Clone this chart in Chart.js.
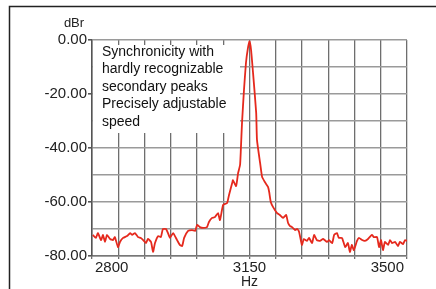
<!DOCTYPE html>
<html>
<head>
<meta charset="utf-8">
<script src="https://cdn.jsdelivr.net/npm/chart.js@4.4.1/dist/chart.umd.min.js"></script>
<style>
  body { margin: 0; background: #fff; }
  canvas { display: block; }
</style>
</head>
<body>
<canvas id="spectrum" width="436" height="289"></canvas>
<script>
// frequency (Hz) and level (dBr)
const hz = [
    2752, 2760, 2765, 2773, 2778, 2783, 2788, 2796, 2803, 2808, 2816, 2821, 2829, 2839, 2847,
    2852, 2859, 2867, 2874, 2880, 2887, 2892, 2900, 2905, 2910, 2918, 2925, 2930, 2938, 2943,
    2948, 2956, 2966, 2973, 2979, 2984, 2994, 3004, 3012, 3017, 3024, 3032, 3042, 3047, 3055,
    3062, 3070, 3075, 3083, 3093, 3098, 3106, 3108, 3116, 3121, 3126, 3128, 3131, 3136, 3141,
    3146, 3150, 3154, 3159, 3167, 3169, 3177, 3182, 3189, 3197, 3200, 3204, 3210, 3220, 3227,
    3235, 3243, 3248, 3253, 3258, 3266, 3271, 3276, 3283, 3288, 3296, 3301, 3309, 3314, 3321,
    3329, 3337, 3347, 3352, 3360, 3365, 3372, 3377, 3385, 3393, 3400, 3405, 3410, 3415, 3423,
    3428, 3436, 3443, 3451, 3461, 3466, 3474, 3479, 3484, 3489, 3494, 3502, 3507, 3512, 3520,
    3527, 3532, 3540, 3545, 3550
];
const dbr = [
    -72.2, -73.3, -71.5, -74.1, -72.2, -74.8, -72.2, -73.7, -74.1, -73.0, -76.7, -74.8, -73.3, -72.6, -71.5,
    -72.2, -71.5, -73.0, -73.3, -74.1, -75.2, -73.7, -74.8, -78.5, -75.2, -72.6, -73.0, -70.0, -70.0, -71.5,
    -73.3, -71.5, -74.1, -75.9, -76.3, -73.3, -70.7, -70.4, -70.7, -68.5, -69.3, -69.6, -69.3, -67.4, -65.9,
    -65.6, -64.1, -66.7, -61.1, -60.4, -57.4, -53.0, -51.9, -54.1, -49.3, -46.3, -40.7, -30.7, -18.5, -8.5,
    -3.0, -0.5, -3.7, -12.2, -27.0, -37.0, -45.6, -50.7, -52.6, -54.4, -56.3, -60.0, -61.9, -64.1, -64.8,
    -65.9, -64.8, -67.8, -68.9, -69.3, -70.4, -70.0, -71.1, -75.9, -73.7, -74.4, -73.3, -75.2, -72.2, -74.1,
    -74.4, -73.7, -74.8, -74.1, -75.2, -72.2, -71.5, -73.3, -73.3, -76.7, -75.2, -78.5, -75.9, -77.8, -74.4,
    -73.3, -74.1, -74.4, -73.7, -72.2, -73.0, -73.0, -76.7, -74.1, -77.8, -74.8, -75.9, -74.1, -75.2, -74.8,
    -76.3, -74.8, -75.6, -74.1, -74.4
];

const xMin = 2750, xMax = 3550;
const xGridStep = 800 / 12;
const xLabels = [2800, 3150, 3500];
const yLabels = [0, -20, -40, -60, -80];
const noteLines = [
    "Synchronicity with",
    "hardly recognizable",
    "secondary peaks",
    "Precisely adjustable",
    "speed"
];

const FONT = '"Liberation Sans", Arial, sans-serif';

const near = (a, b) => Math.abs(a - b) < 0.01;
const isXGrid = (v) => Math.abs(((v - xMin) / xGridStep) - Math.round((v - xMin) / xGridStep)) < 0.001;

const xTickValues = (() => {
    const vals = [];
    for (let k = 0; k <= 12; k++) vals.push(Math.round((xMin + k * xGridStep) * 1000) / 1000);
    xLabels.forEach(v => { if (!vals.some(g => near(g, v))) vals.push(v); });
    return vals.sort((a, b) => a - b);
})();

const extrasPlugin = {
    id: "extras",
    beforeDatasetsDraw(chart) {
        const { ctx, chartArea } = chart;
        // white note box hiding the grid in the top-left corner
        ctx.save();
        ctx.fillStyle = "#fff";
        ctx.fillRect(chartArea.left + 1, 45, 240 - chartArea.left - 1, 88);
        ctx.restore();
    },
    afterDraw(chart) {
        const { ctx } = chart;
        const x = chart.scales.x;
        ctx.save();
        // frame
        ctx.strokeStyle = "#222";
        ctx.lineWidth = 1.5;
        ctx.beginPath();
        ctx.moveTo(436, 6.5);
        ctx.lineTo(9.5, 6.5);
        ctx.lineTo(9.5, 289);
        ctx.stroke();

        ctx.fillStyle = "#222";
        ctx.font = "13px " + FONT;
        ctx.textAlign = "center";
        ctx.textBaseline = "middle";
        ctx.fillText("dBr", 74, 23);

        ctx.font = "14px " + FONT;
        ctx.fillText("Hz", x.getPixelForValue(3150), 282);

        ctx.fillStyle = "#111";
        ctx.font = "14px " + FONT;
        ctx.textAlign = "left";
        noteLines.forEach((line, i) => {
            ctx.fillText(line, 102, 52 + i * 17.5);
        });
        ctx.restore();
    }
};

new Chart(document.getElementById("spectrum"), {
    type: "scatter",
    data: {
        datasets: [{
            data: hz.map((h, i) => ({ x: h, y: dbr[i] })),
            showLine: true,
            borderColor: "#e5291d",
            borderWidth: 1.8,
            pointRadius: 0,
            tension: 0.15
        }]
    },
    options: {
        responsive: false,
        animation: false,
        layout: { padding: { top: 40, right: 29, left: 0, bottom: 0 } },
        plugins: {
            legend: { display: false },
            tooltip: { enabled: false }
        },
        scales: {
            x: {
                type: "linear",
                min: xMin,
                max: xMax,
                afterBuildTicks: (scale) => {
                    scale.ticks = xTickValues.map(v => ({ value: v }));
                },
                afterFit: (scale) => { scale.height = 33; },
                grid: {
                    color: (c) => isXGrid(c.tick.value) ? "#6e6e6e" : "transparent",
                    lineWidth: 1.3,
                    tickLength: 3
                },
                border: { color: "#777", width: 1.5 },
                ticks: {
                    autoSkip: false,
                    maxRotation: 0,
                    padding: 0,
                    color: "#222",
                    font: { family: FONT, size: 15 },
                    callback: (v) => xLabels.some(l => near(l, v)) ? String(v) : ""
                }
            },
            y: {
                min: -80,
                max: 0,
                afterFit: (scale) => { scale.width = 92; },
                grid: {
                    color: "#9a9a9a",
                    lineWidth: 1.6,
                    tickLength: 4,
                    tickColor: (c) => yLabels.includes(c.tick.value) ? "#555" : "transparent"
                },
                border: { color: "#555", width: 1.5 },
                ticks: {
                    stepSize: 10,
                    padding: 1,
                    color: "#222",
                    font: { family: FONT, size: 15 },
                    callback: (v) => yLabels.includes(v) ? v.toFixed(2) : ""
                }
            }
        }
    },
    plugins: [extrasPlugin]
});
</script>
</body>
</html>
